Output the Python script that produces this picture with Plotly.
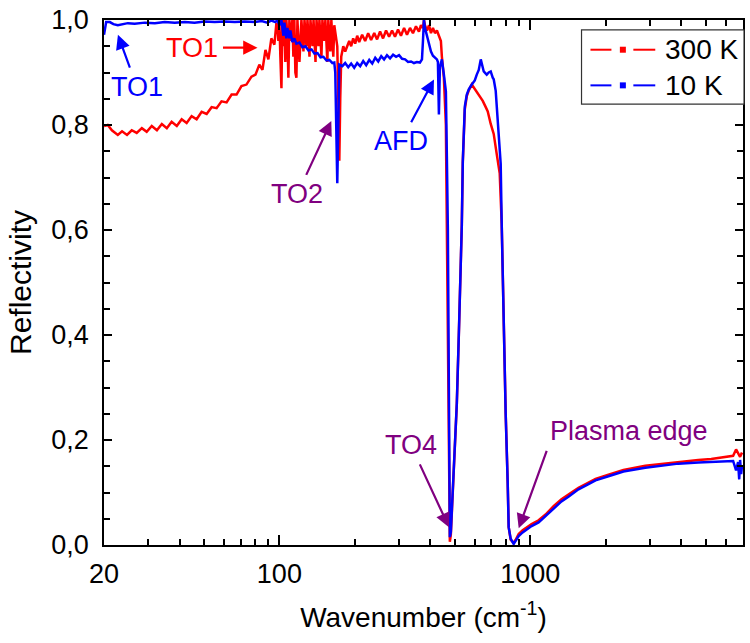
import plotly.graph_objects as go

# ---------------- data ----------------
wn_300K = [20.0, 20.7, 21.5, 22.7, 23.6, 24.7, 25.8, 27.0, 28.3, 29.6, 31.0, 32.5, 34.0, 35.6, 37.2,
           39.0, 40.8, 42.7, 44.7, 46.8, 49.0, 51.3, 53.7, 56.2, 58.8, 61.6, 64.5, 67.5, 70.6, 73.9,
           77.4, 80.3, 83.2, 85.6, 88.0, 90.4, 92.9, 95.5, 97.3,
           98.2, 99.1, 100.0, 100.9, 101.9, 102.8, 103.8, 104.7, 105.6, 106.6, 107.6, 108.6, 109.6,
           111.6, 112.6, 113.7, 114.7, 115.8, 116.9, 118.0, 120.2, 122.4, 124.7, 125.9, 128.2, 129.4,
           131.8, 133.0, 135.5, 136.8, 139.3, 140.6, 143.2, 144.4, 147.1, 148.4, 151.1, 152.5, 155.3,
           156.7, 159.6, 161.1, 164.0, 165.5, 168.6, 170.1, 171.7, 173.3, 174.8, 176.4, 179.7, 182.9,
           186.3, 189.8, 193.2, 196.8, 200.5, 204.2, 208.0, 213.7, 219.7, 225.8, 232.0, 238.8, 245.1,
           251.9, 258.9, 266.1, 273.6, 281.2, 288.9, 297.0, 305.2, 314.0, 322.5, 331.5, 340.7, 350.2,
           359.9, 366.6, 373.4, 376.8, 380.3, 387.5, 394.7, 401.9, 409.2, 416.7, 424.4, 432.2, 440.2,
           444.2, 452.4, 460.8, 465.0, 469.3, 473.6, 477.9, 482.3, 491.2, 500.3, 509.5, 518.9, 528.5,
           533.3, 538.2, 543.2, 548.2, 558.3, 568.6, 584.4, 600.7, 623.1, 646.3, 664.3, 676.6, 695.4,
           714.7, 734.6, 755.1, 769.0, 783.2, 797.7, 812.4, 819.9, 835.0, 858.3, 874.2, 898.5, 932.0,
           957.9, 1012, 1079, 1150, 1238, 1331, 1419, 1556, 1706, 1819, 2048, 2350, 2873, 3388, 3887,
           4670, 5260, 5870, 6430, 6607, 6730, 6855, 6975]
R_300K = [0.798, 0.800, 0.790, 0.781, 0.788, 0.781, 0.790, 0.785, 0.794, 0.787, 0.798, 0.790, 0.802,
          0.794, 0.806, 0.798, 0.811, 0.804, 0.817, 0.811, 0.825, 0.821, 0.834, 0.832, 0.845, 0.843,
          0.858, 0.858, 0.874, 0.877, 0.892, 0.896, 0.915, 0.905, 0.943, 0.925, 0.965, 0.953, 0.994,
          0.99, 0.96, 1.0, 0.93, 0.87, 1.0, 0.95, 1.0, 0.92, 1.0, 0.97, 0.89, 1.0,
          0.96, 1.0, 0.93, 1.0, 0.90, 0.89, 1.0, 0.92, 1.0, 0.94, 1.0, 0.95, 1.0,
          0.93, 1.0, 0.95, 1.0, 0.92, 1.0, 0.95, 1.0, 0.93, 1.0, 0.96, 1.0, 0.92,
          1.0, 0.94, 1.0, 0.93, 0.99, 0.96, 0.95, 0.85, 0.732, 0.85, 0.93, 0.95, 0.94,
          0.95, 0.96, 0.95, 0.965, 0.955, 0.97, 0.958, 0.972, 0.96, 0.975, 0.962, 0.975, 0.963,
          0.978, 0.965, 0.98, 0.968, 0.98, 0.968, 0.982, 0.97, 0.985, 0.972, 0.985, 0.975, 0.988,
          0.978, 0.99, 0.985, 1.0, 0.99, 0.98, 0.99, 0.975, 0.985, 0.975, 0.98, 0.97, 0.96,
          0.93, 0.89, 0.80, 0.61, 0.45, 0.25, 0.006, 0.02, 0.10, 0.19, 0.27, 0.40, 0.53,
          0.61, 0.73, 0.80, 0.83, 0.855, 0.866, 0.877, 0.868, 0.858, 0.846, 0.834, 0.826, 0.802,
          0.783, 0.745, 0.708, 0.613, 0.40, 0.25, 0.12, 0.034, 0.01, 0.004, 0.01, 0.021, 0.028,
          0.032, 0.040, 0.047, 0.058, 0.074, 0.087, 0.096, 0.109, 0.119, 0.126, 0.134, 0.143, 0.151,
          0.155, 0.158, 0.162, 0.164, 0.168, 0.170, 0.182, 0.175, 0.168, 0.176]

wn_10K = [20.0, 20.2, 20.4, 21.1, 21.8, 22.7, 23.6, 24.9, 26.5, 29.1, 31.9, 34.9, 38.3, 42.0, 45.9,
          50.4, 55.2, 60.5, 66.4, 72.7, 79.7, 84.9, 89.6, 92.9, 96.4, 98.2, 100.0, 101.9, 103.8,
          104.7, 106.6, 107.6, 109.6, 110.6, 112.6, 114.7, 116.9, 120.2, 123.5, 127.0, 130.6, 134.3,
          138.0, 141.9, 145.8, 149.8, 154.0, 158.2, 162.6, 165.5, 167.0, 168.6, 170.1, 171.7, 173.3,
          178.1, 182.9, 188.1, 193.2, 198.7, 204.2, 209.9, 215.8, 221.8, 228.1, 234.5, 241.0, 247.7,
          254.6, 261.3, 268.4, 276.1, 283.9, 291.9, 299.8, 308.3, 316.9, 325.6, 334.6, 343.7, 353.3,
          363.2, 370.0, 373.4, 376.8, 380.3, 387.5, 394.7, 401.9, 409.2, 416.7, 424.4, 428.3, 432.2,
          436.2, 444.2, 452.4, 460.8, 465.0, 469.3, 473.6, 477.9, 482.3, 491.2, 500.3, 509.5, 518.9,
          528.5, 533.3, 538.2, 543.2, 548.2, 558.3, 568.6, 584.4, 600.7, 611.8, 623.1, 634.6, 640.4,
          652.2, 664.3, 670.4, 682.8, 695.4, 708.2, 714.7, 727.9, 734.6, 748.2, 762.0, 769.0, 783.2,
          797.7, 812.4, 819.9, 835.0, 858.3, 874.2, 898.5, 932.0, 957.9, 1012, 1079, 1150, 1238, 1331,
          1419, 1556, 1706, 1819, 2048, 2350, 2873, 3388, 3887, 4670, 5260, 5870, 6430, 6607, 6730,
          6800, 6855, 6920, 6975]
R_10K = [0.972, 0.990, 0.996, 0.996, 0.992, 0.990, 0.992, 0.994, 0.993, 0.995, 0.994, 0.996, 0.995,
         0.996, 0.995, 0.997, 0.996, 0.997, 0.996, 0.997, 0.996, 0.998, 0.995, 0.999, 0.996, 1.0,
         0.99, 1.0, 0.97, 0.995, 0.965, 0.985, 0.965, 0.98, 0.958, 0.965, 0.955, 0.957, 0.948, 0.950,
         0.942, 0.944, 0.936, 0.937, 0.929, 0.930, 0.923, 0.924, 0.918, 0.919, 0.90, 0.80, 0.689,
         0.80, 0.915, 0.912, 0.918, 0.910, 0.917, 0.909, 0.918, 0.912, 0.922, 0.914, 0.924, 0.917,
         0.928, 0.921, 0.931, 0.925, 0.933, 0.927, 0.934, 0.930, 0.933, 0.926, 0.925, 0.920, 0.921,
         0.918, 0.920, 0.919, 0.925, 0.96, 1.0, 0.985, 0.968, 0.953, 0.940, 0.932, 0.928, 0.925,
         0.92, 0.82, 0.91, 0.925, 0.896, 0.864, 0.74, 0.60, 0.30, 0.015, 0.025, 0.10, 0.19, 0.27,
         0.40, 0.53, 0.61, 0.73, 0.81, 0.835, 0.858, 0.868, 0.877, 0.885, 0.896, 0.905, 0.925, 0.915,
         0.902, 0.898, 0.896, 0.900, 0.902, 0.890, 0.887, 0.865, 0.840, 0.789, 0.726, 0.613, 0.40,
         0.25, 0.12, 0.034, 0.012, 0.002, 0.008, 0.017, 0.024, 0.028, 0.036, 0.043, 0.055, 0.070,
         0.083, 0.092, 0.106, 0.116, 0.123, 0.131, 0.140, 0.147, 0.151, 0.155, 0.157, 0.158, 0.159,
         0.160, 0.142, 0.158, 0.125, 0.162, 0.135, 0.150]

series_names = ["300 K", "10 K"]
series_colors = ["#ff0000", "#0000ff"]
purple = "#800080"

x_major_ticks = [20, 100, 1000]
x_major_text = ["20", "100", "1000"]
x_minor_ticks = [30, 40, 50, 60, 70, 80, 90, 200, 300, 400, 500, 600, 700, 800, 900,
                 2000, 3000, 4000, 5000, 6000, 7000]
y_ticks = [0.0, 0.2, 0.4, 0.6, 0.8, 1.0]
y_ticktext = ["0,0", "0,2", "0,4", "0,6", "0,8", "1,0"]

FONT = "Liberation Sans, Arial, sans-serif"

fig = go.Figure()
for wn, R, c, name in [(wn_300K, R_300K, series_colors[0], series_names[0]),
                       (wn_10K, R_10K, series_colors[1], series_names[1])]:
    fig.add_trace(go.Scatter(x=wn, y=R, mode="lines", name=name, line=dict(color=c, width=2.5),
                             showlegend=False, hoverinfo="skip"))

# ---------------- legend (drawn as a boxed key: dash - dot - dash) ----------------
fig.add_shape(type="rect", xref="paper", yref="paper", x0=0.7473, x1=1.0016, y0=0.8396, y1=0.9811,
              line=dict(color="#333333", width=1.2), fillcolor="white", layer="above")
legend_rows_y = [0.9434, 0.8755]
for name, c, yy in zip(series_names, series_colors, legend_rows_y):
    for xa, xb in [(0.7613, 0.7941), (0.8284, 0.8627)]:
        fig.add_shape(type="line", xref="paper", yref="paper", x0=xa, x1=xb, y0=yy, y1=yy,
                      line=dict(color=c, width=2), layer="above")
    fig.add_shape(type="rect", xref="paper", yref="paper", x0=0.8073, x1=0.8167,
                  y0=yy - 0.0057, y1=yy + 0.0057, line=dict(color=c, width=0),
                  fillcolor=c, layer="above")
    fig.add_annotation(xref="paper", yref="paper", x=0.8752, y=yy, text=name, showarrow=False,
                       xanchor="left", yanchor="middle",
                       font=dict(family=FONT, size=28, color="black"))

# ---------------- annotations (label + arrow) ----------------
def note(text, color, x, y, ax, ay, xanchor="center", yanchor="middle"):
    fig.add_annotation(xref="paper", yref="paper", x=x, y=y, ax=ax, ay=ay, text=text,
                       showarrow=True, arrowhead=2, arrowsize=1.3, arrowwidth=2.2,
                       arrowcolor=color, startstandoff=3, xanchor=xanchor, yanchor=yanchor,
                       font=dict(family=FONT, size=27, color=color))

note("TO1", series_colors[0], 0.2402, 0.9472, -65, 0)
note("TO1", series_colors[1], 0.0218, 0.9717, 19, 52)
note("TO2", purple, 0.3557, 0.8075, -34, 73)
note("AFD", series_colors[1], 0.5164, 0.8868, -33, 62)
note("TO4", purple, 0.5398, 0.034, -38, -82)
note("Plasma edge", purple, 0.649, 0.0321, 29, -80, xanchor="left", yanchor="bottom")

axis_common = dict(showline=True, linecolor="black", linewidth=1.5, mirror="allticks",
                   ticks="inside", tickcolor="black", tickwidth=1.5, showgrid=False,
                   zeroline=False, tickfont=dict(family=FONT, size=27, color="black"))

fig.update_xaxes(type="log", range=[1.30103, 3.8476], tickmode="array",
                 tickvals=x_major_ticks, ticktext=x_major_text, ticklen=10,
                 ticklabelstandoff=4,
                 minor=dict(tickmode="array", tickvals=x_minor_ticks, ticks="inside",
                            ticklen=6, tickcolor="black", tickwidth=1.5),
                 title=dict(text="Wavenumber (cm<sup>-1</sup>)",
                            font=dict(family=FONT, size=28, color="black"), standoff=19),
                 **axis_common)
fig.update_yaxes(range=[0, 1.0], tickmode="array", tickvals=y_ticks, ticktext=y_ticktext,
                 ticklen=8, ticklabelstandoff=8,
                 minor=dict(dtick=0.05, ticks="inside", ticklen=6, tickcolor="black",
                            tickwidth=1.5),
                 title=dict(text="Reflectivity", font=dict(family=FONT, size=30, color="black"),
                            standoff=11),
                 **axis_common)

fig.update_layout(
    width=750, height=643,
    margin=dict(l=104, r=5, t=15, b=98),
    plot_bgcolor="white", paper_bgcolor="white",
    font=dict(family=FONT, size=27, color="black"),
    showlegend=False,
)

fig.write_html("out.html")
